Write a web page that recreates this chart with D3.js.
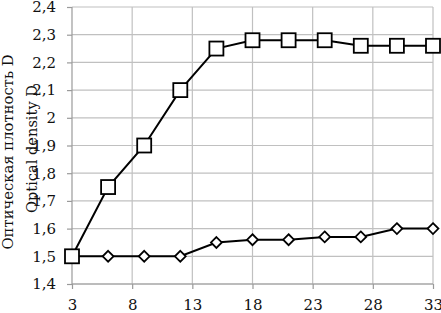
<!DOCTYPE html>
<html><head><meta charset="utf-8">
<script src="https://cdn.jsdelivr.net/npm/d3@7"></script>
<style>body{margin:0;background:#fff}svg{display:block}</style>
</head><body><svg id="c" width="441" height="313"></svg>
<script>
const xValues = [3, 6, 9, 12, 15, 18, 21, 24, 27, 30, 33];
const seriesSquare = [1.5, 1.75, 1.9, 2.1, 2.25, 2.28, 2.28, 2.28, 2.26, 2.26, 2.26];
const seriesDiamond = [1.5, 1.5, 1.5, 1.5, 1.55, 1.56, 1.56, 1.57, 1.57, 1.6, 1.6];
const xTicks = [3, 8, 13, 18, 23, 28, 33];
const yTicks = [1.4, 1.5, 1.6, 1.7, 1.8, 1.9, 2.0, 2.1, 2.2, 2.3, 2.4];
const yLabelRu = "Оптическая плотность D";
const yLabelEn = "Optical density D";

const FONT = '"DejaVu Serif", serif';
const svg = d3.select("#c").attr("font-family", FONT);
const x = d3.scaleLinear().domain([3, 33]).range([72, 433]);
const y = d3.scaleLinear().domain([1.4, 2.4]).range([284, 7]);
const fmt = v => d3.format(".1f")(v).replace(/\.0$/, "").replace(".", ",");

svg.append("g").selectAll("line").data(yTicks).join("line")
  .attr("x1", 72).attr("x2", 433).attr("y1", d => y(d)).attr("y2", d => y(d))
  .attr("stroke", "#c0c0c0").attr("stroke-width", 1.2);
svg.append("g").selectAll("line").data(xTicks.slice(1)).join("line")
  .attr("y1", y(2.4)).attr("y2", y(1.4)).attr("x1", d => x(d)).attr("x2", d => x(d))
  .attr("stroke", "#c0c0c0").attr("stroke-width", 1.2);

const yAxis = d3.axisLeft(y).tickValues(yTicks).tickFormat(fmt).tickSize(5).tickPadding(11);
const gy = svg.append("g").attr("transform", "translate(72,0)").call(yAxis);
const xAxis = d3.axisBottom(x).tickValues(xTicks).tickFormat(d3.format("d")).tickSize(5).tickPadding(10);
const gx = svg.append("g").attr("transform", `translate(0,${y(1.4)})`).call(xAxis);
[gx, gy].forEach(g => {
  g.attr("font-family", FONT).attr("font-size", 15);
  g.select(".domain").attr("stroke", "#9a9a9a").attr("stroke-width", 1.2);
  g.selectAll(".tick line").attr("stroke", "#9a9a9a").attr("stroke-width", 1.2);
  g.selectAll("text").attr("fill", "#111");
});
gx.select(".domain").attr("d", `M72,0H433`);
gy.select(".domain").attr("d", `M0,${y(2.4)}V${y(1.4)}`);

svg.append("text").attr("transform", "translate(13,152) rotate(-90)")
  .attr("text-anchor", "middle").attr("font-size", 15).attr("fill", "#111")
  .attr("textLength", 195).attr("lengthAdjust", "spacingAndGlyphs").text(yLabelRu);
svg.append("text").attr("transform", "translate(37,149) rotate(-90)")
  .attr("text-anchor", "middle").attr("font-size", 15).attr("fill", "#111")
  .attr("textLength", 128).attr("lengthAdjust", "spacingAndGlyphs").text(yLabelEn);

const line = d3.line().x((d, i) => x(xValues[i])).y(d => y(d));
[seriesDiamond, seriesSquare].forEach(s => {
  svg.append("path").datum(s).attr("d", line).attr("fill", "none")
    .attr("stroke", "#000").attr("stroke-width", 2);
});
svg.append("g").selectAll("path").data(seriesDiamond).join("path")
  .attr("d", d3.symbol(d3.symbolDiamond2, 75)())
  .attr("transform", (d, i) => `translate(${x(xValues[i])},${y(d)})`)
  .attr("fill", "#fff").attr("stroke", "#000").attr("stroke-width", 1.8);
svg.append("g").selectAll("rect").data(seriesSquare).join("rect")
  .attr("x", (d, i) => x(xValues[i]) - 7).attr("y", d => y(d) - 7)
  .attr("width", 14).attr("height", 14)
  .attr("fill", "#fff").attr("stroke", "#000").attr("stroke-width", 1.8);
</script></body></html>
